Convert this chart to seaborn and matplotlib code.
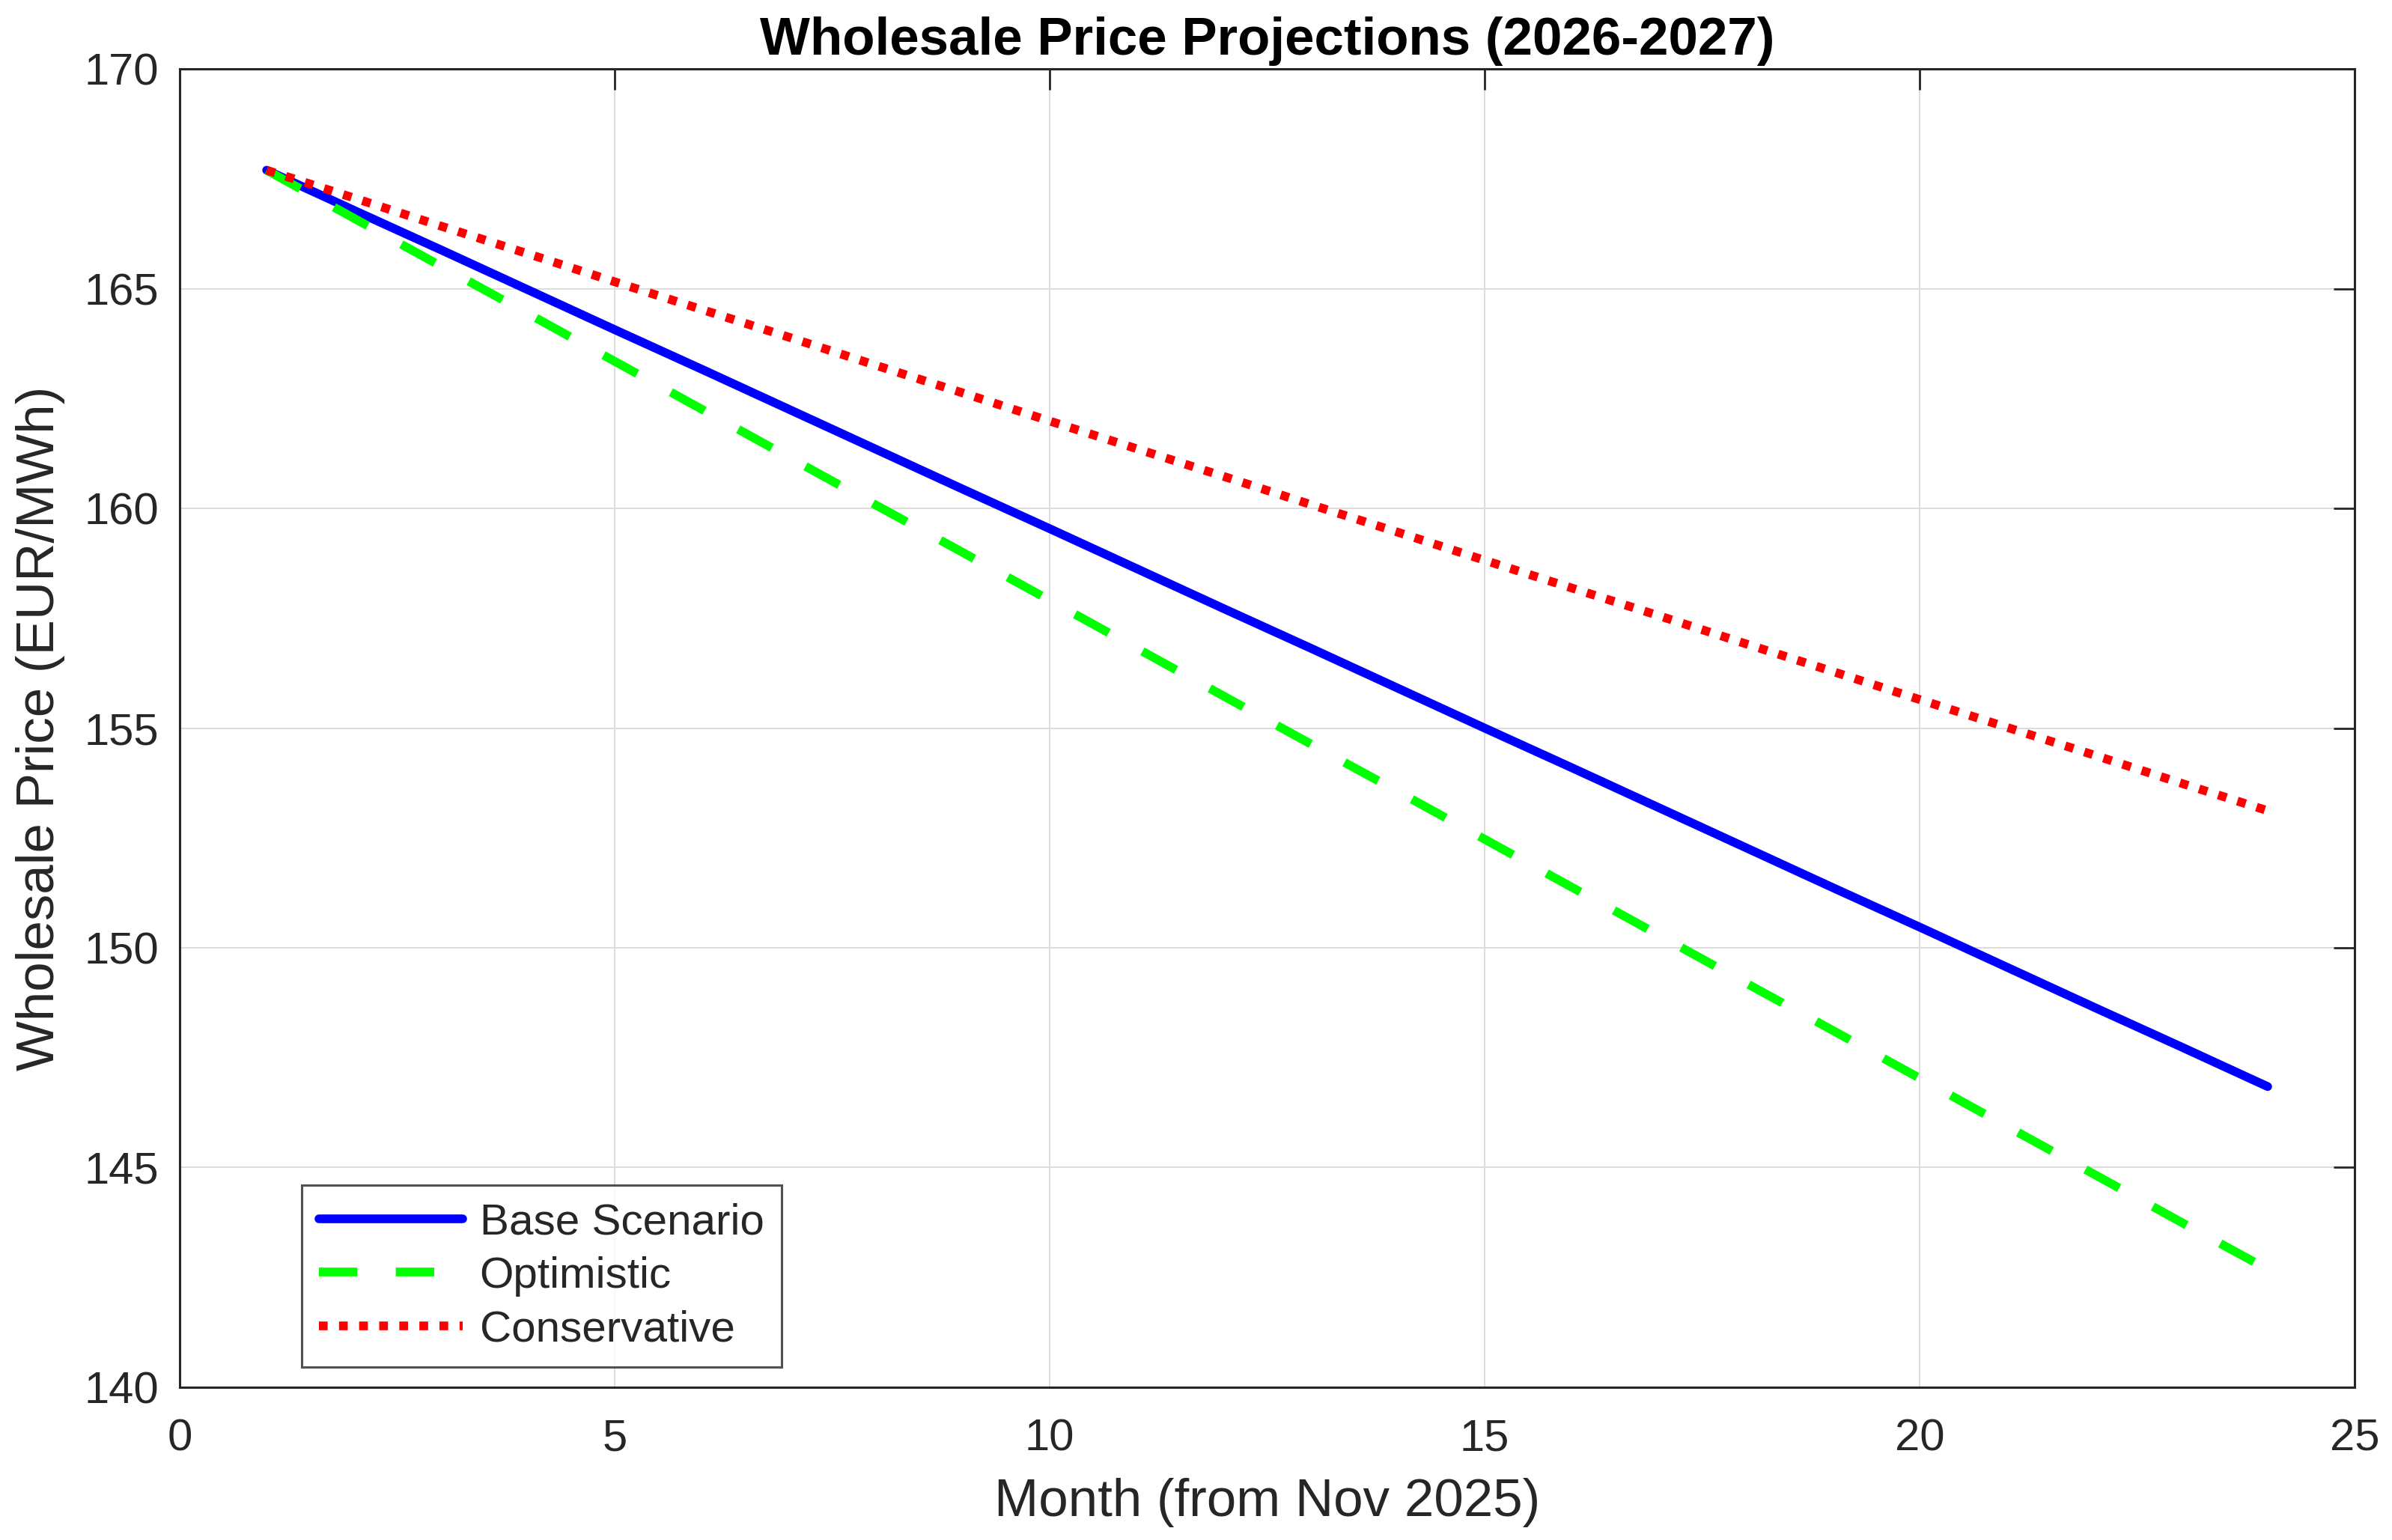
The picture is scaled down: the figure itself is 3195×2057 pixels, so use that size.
import pandas as pd
import seaborn as sns
import matplotlib.pyplot as plt

# monthly values
months = list(range(1, 25))
base = [167.70, 166.79, 165.89, 164.98, 164.07, 163.17, 162.26, 161.35,
        160.44, 159.54, 158.63, 157.72, 156.82, 155.91, 155.00, 154.10,
        153.19, 152.28, 151.37, 150.47, 149.56, 148.65, 147.75, 146.84]
optimistic = [167.70, 166.61, 165.52, 164.44, 163.35, 162.26, 161.17, 160.08,
              159.00, 157.91, 156.82, 155.73, 154.64, 153.56, 152.47, 151.38,
              150.29, 149.20, 148.12, 147.03, 145.94, 144.85, 143.76, 142.68]
conservative = [167.70, 167.07, 166.43, 165.80, 165.16, 164.53, 163.90, 163.26,
                162.63, 161.99, 161.36, 160.73, 160.09, 159.46, 158.82, 158.19,
                157.56, 156.92, 156.29, 155.65, 155.02, 154.39, 153.75, 153.12]
scenarios = ["Base Scenario", "Optimistic", "Conservative"]

df = pd.DataFrame({
    "month": months * 3,
    "price": base + optimistic + conservative,
    "scenario": [s for s in scenarios for _ in months],
})

sns.set_style("white")
plt.rcParams["font.family"] = ["Liberation Sans", "DejaVu Sans"]

fig = plt.figure(figsize=(15.975, 10.285), dpi=200)
ax = fig.add_axes([0.0751, 0.0993, 0.9093, 0.8558])

palette = {"Base Scenario": "#0000ff", "Optimistic": "#00ff00", "Conservative": "#ff0000"}
dashes = {"Base Scenario": "", "Optimistic": (4.4, 4.4), "Conservative": (1, 1.3)}
sns.lineplot(data=df, x="month", y="price", hue="scenario", style="scenario",
             hue_order=scenarios, style_order=scenarios, palette=palette,
             dashes=dashes, linewidth=4.2, legend=False, ax=ax)

ax.set_xlim(0, 25)
ax.set_ylim(140, 170)
ax.set_xticks(range(0, 26, 5))
ax.set_yticks(range(140, 171, 5))
ax.grid(True, color="#dcdcdc", linewidth=0.7)
ax.set_axisbelow(True)
for sp in ax.spines.values():
    sp.set_color("#262626")
    sp.set_linewidth(1.1)
ax.tick_params(direction="in", top=True, right=True, length=10, width=1.0,
               colors="#262626", labelsize=21.5)
ax.tick_params(axis="x", pad=15)
ax.tick_params(axis="y", pad=10)

ax.set_title("Wholesale Price Projections (2026-2027)", fontsize=25.5,
             fontweight="bold", pad=7, color="black")
ax.set_xlabel("Month (from Nov 2025)", fontsize=25.5, color="#262626", labelpad=9)
ax.set_ylabel("Wholesale Price (EUR/MWh)", fontsize=25.5, color="#262626", labelpad=9)

leg = ax.legend(ax.lines[:3], scenarios, loc="lower left",
                bbox_to_anchor=(0.056, 0.015), borderaxespad=0,
                fontsize=21, frameon=True, fancybox=False,
                handlelength=3.3, handletextpad=0.38, borderpad=0.4,
                labelspacing=0.3)
leg.get_frame().set_edgecolor("#262626")
leg.get_frame().set_linewidth(1.1)

fig.savefig("out.png", dpi=200, facecolor="white")
